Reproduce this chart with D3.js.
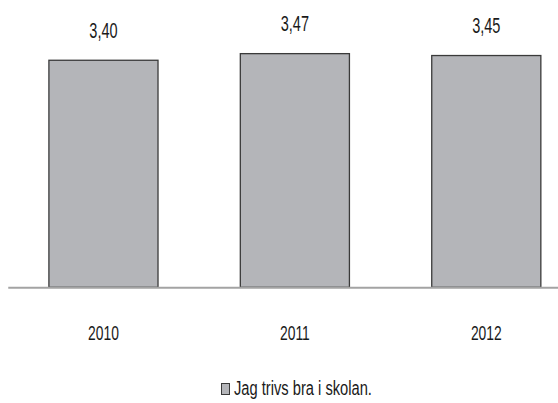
<!DOCTYPE html>
<html>
<head>
<meta charset="utf-8">
<script src="https://cdn.jsdelivr.net/npm/d3@7"></script>
<style>
  body { margin: 0; background: #fff; }
  svg { display: block; }
</style>
</head>
<body>
<svg id="chart"></svg>
<script>
var years = ["2010", "2011", "2012"]
var values = [3.40, 3.47, 3.45]
var seriesName = "Jag trivs bra i skolan."

var dimensions = {
    width: 558,
    height: 403,
    baseline: 287.3,
    plotLeft: 7.75,
    plotRight: 582
}

// text in the picture is horizontally squeezed
var squeeze = 0.66
var font = "'Liberation Sans', Arial, sans-serif"

var svg = d3.select("#chart")
    .attr("width", dimensions.width)
    .attr("height", dimensions.height)

var xScale = d3.scaleBand()
    .domain(years)
    .range([dimensions.plotLeft, dimensions.plotRight])
    .paddingInner(0.43)
    .paddingOuter(0.215)

var yScale = d3.scaleLinear()
    .domain([1, 4])
    .range([dimensions.baseline, dimensions.baseline - 3 * 94.6])

var data = years.map((y, i) => ({ year: y, value: values[i] }))

svg.append("g")
    .selectAll("rect")
    .data(data)
    .enter()
    .append("rect")
    .attr("x", d => xScale(d.year))
    .attr("y", d => yScale(d.value))
    .attr("width", xScale.bandwidth())
    .attr("height", d => dimensions.baseline - yScale(d.value))
    .attr("fill", "#b4b5b9")
    .attr("stroke", "#3a3a3a")
    .attr("stroke-width", 1.3)

// axis line
var xAxis = d3.axisBottom(xScale).tickSize(0).tickFormat("")
svg.append("g")
    .attr("transform", "translate(0," + dimensions.baseline + ")")
    .call(xAxis)
    .select(".domain")
    .attr("stroke", "#a3a3a3")
    .attr("stroke-width", 2)

// value labels
svg.append("g")
    .selectAll("g")
    .data(data)
    .enter()
    .append("g")
    .attr("transform", d => "translate(" + (xScale(d.year) + xScale.bandwidth() / 2) + "," + (yScale(d.value) - 22.5) + ") scale(" + squeeze + ",1)")
    .append("text")
    .attr("text-anchor", "middle")
    .style("font", "22px " + font)
    .attr("fill", "#1a1a1a")
    .text(d => d3.format(".2f")(d.value).replace(".", ","))

// year labels
svg.append("g")
    .selectAll("g")
    .data(years)
    .enter()
    .append("g")
    .attr("transform", d => "translate(" + (xScale(d) + xScale.bandwidth() / 2) + ",340) scale(" + squeeze + ",1)")
    .append("text")
    .attr("text-anchor", "middle")
    .style("font", "21px " + font)
    .attr("fill", "#1a1a1a")
    .text(d => d)

// legend
var legend = svg.append("g")
legend.append("rect")
    .attr("x", 221.5)
    .attr("y", 383.5)
    .attr("width", 8)
    .attr("height", 11)
    .attr("fill", "#b4b5b9")
    .attr("stroke", "#3a3a3a")
    .attr("stroke-width", 1)
legend.append("g")
    .attr("transform", "translate(234,395) scale(0.7,1)")
    .append("text")
    .style("font", "21px " + font)
    .attr("fill", "#1a1a1a")
    .text(seriesName)
</script>
</body>
</html>
